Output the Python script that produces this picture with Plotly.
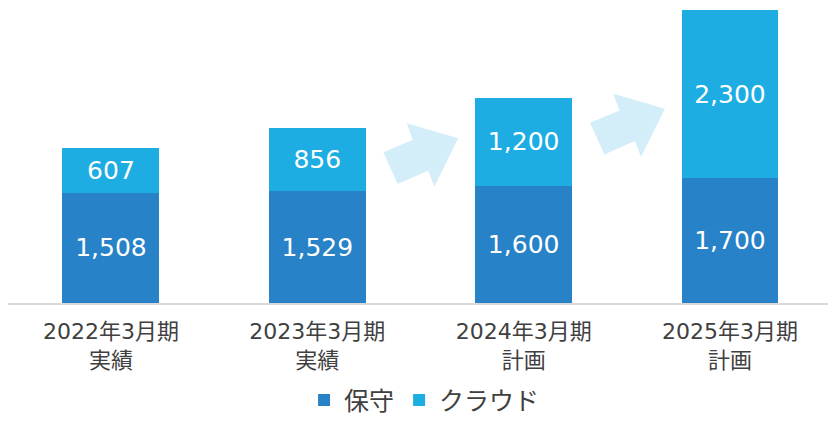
import plotly.graph_objects as go

categories_line1 = ["2022年3月期", "2023年3月期", "2024年3月期", "2025年3月期"]
categories_line2 = ["実績", "実績", "計画", "計画"]
maintenance = [1508, 1529, 1600, 1700]
cloud = [607, 856, 1200, 2300]
series_names = ["保守", "クラウド"]

DARK = "#2782C7"
LIGHT = "#1EADE3"
ARROW = "#D4EEF9"
TEXT = "#404040"
FONT = "DejaVu Sans, Noto Sans CJK JP"

xs = list(range(len(categories_line1)))

fig = go.Figure()
fig.add_trace(go.Bar(
    x=xs, y=maintenance, name=series_names[0], marker=dict(color=DARK, line=dict(width=0)),
    texttemplate="%{y:,}", textposition="inside", insidetextanchor="middle",
    textfont=dict(color="white", size=25, family=FONT), constraintext="none",
    width=0.47,
))
fig.add_trace(go.Bar(
    x=xs, y=cloud, name=series_names[1], marker=dict(color=LIGHT, line=dict(width=0)),
    texttemplate="%{y:,}", textposition="inside", insidetextanchor="middle",
    textfont=dict(color="white", size=25, family=FONT), constraintext="none",
    width=0.47,
))

# Decorative arrows (pixel offsets relative to the arrow's reference point)
arrow_shape = [(0, 0), (14.4, 31.7), (45, 18.4), (51, 34.4), (75, -14), (23.4, -29), (29.4, -12.3)]
px_per_unit_x = 206.33
px_per_unit_y = 293 / 4000.0


def arrow_path(x0_px, y0_px):
    pts = []
    for dx, dy in arrow_shape:
        px = x0_px + dx
        py = y0_px + dy
        xd = (px - 111) / px_per_unit_x
        yd = (303 - py) / px_per_unit_y
        pts.append((xd, yd))
    return "M " + " L ".join(f"{a:.4f},{b:.2f}" for a, b in pts) + " Z"


for (ax, ay) in [(383.3, 152.3), (590, 122.7)]:
    fig.add_shape(type="path", path=arrow_path(ax, ay), xref="x", yref="y",
                  fillcolor=ARROW, line=dict(width=0), layer="below")

XR = [-0.499, 3.475]

fig.update_layout(
    barmode="stack",
    width=828, height=424,
    margin=dict(l=8, r=0, t=10, b=121, autoexpand=False),
    paper_bgcolor="white", plot_bgcolor="white",
    font=dict(family=FONT, color=TEXT),
    legend=dict(orientation="h", x=0.508, xanchor="center", y=-0.41, yanchor="bottom",
                font=dict(size=25, color=TEXT, family="Noto Sans CJK JP"),
                traceorder="normal", itemwidth=30),
    showlegend=True,
    xaxis=dict(
        tickmode="array", tickvals=xs, ticktext=categories_line1, range=XR,
        showline=True, linecolor="#D9D9D9", linewidth=2, ticks="",
        tickfont=dict(size=22, color=TEXT, family=FONT), showgrid=False, zeroline=False,
        ticklabelstandoff=8, automargin=False,
    ),
    xaxis2=dict(
        tickmode="array", tickvals=xs, ticktext=categories_line2, range=XR,
        overlaying="x", side="bottom", anchor="y",
        showline=False, ticks="", showgrid=False, zeroline=False,
        tickfont=dict(size=22, color=TEXT, family=FONT),
        ticklabelstandoff=42, automargin=False,
    ),
    yaxis=dict(range=[0, 4000], visible=False, showgrid=False, zeroline=False, automargin=False),
)
# invisible helper trace so the second category axis is drawn
fig.add_trace(go.Scatter(x=xs, y=[None] * len(xs), xaxis="x2", yaxis="y",
                         showlegend=False, hoverinfo="skip", mode="markers"))

fig.write_html("out.html", config={"displayModeBar": False},
               post_script="document.body.style.margin='0';")
